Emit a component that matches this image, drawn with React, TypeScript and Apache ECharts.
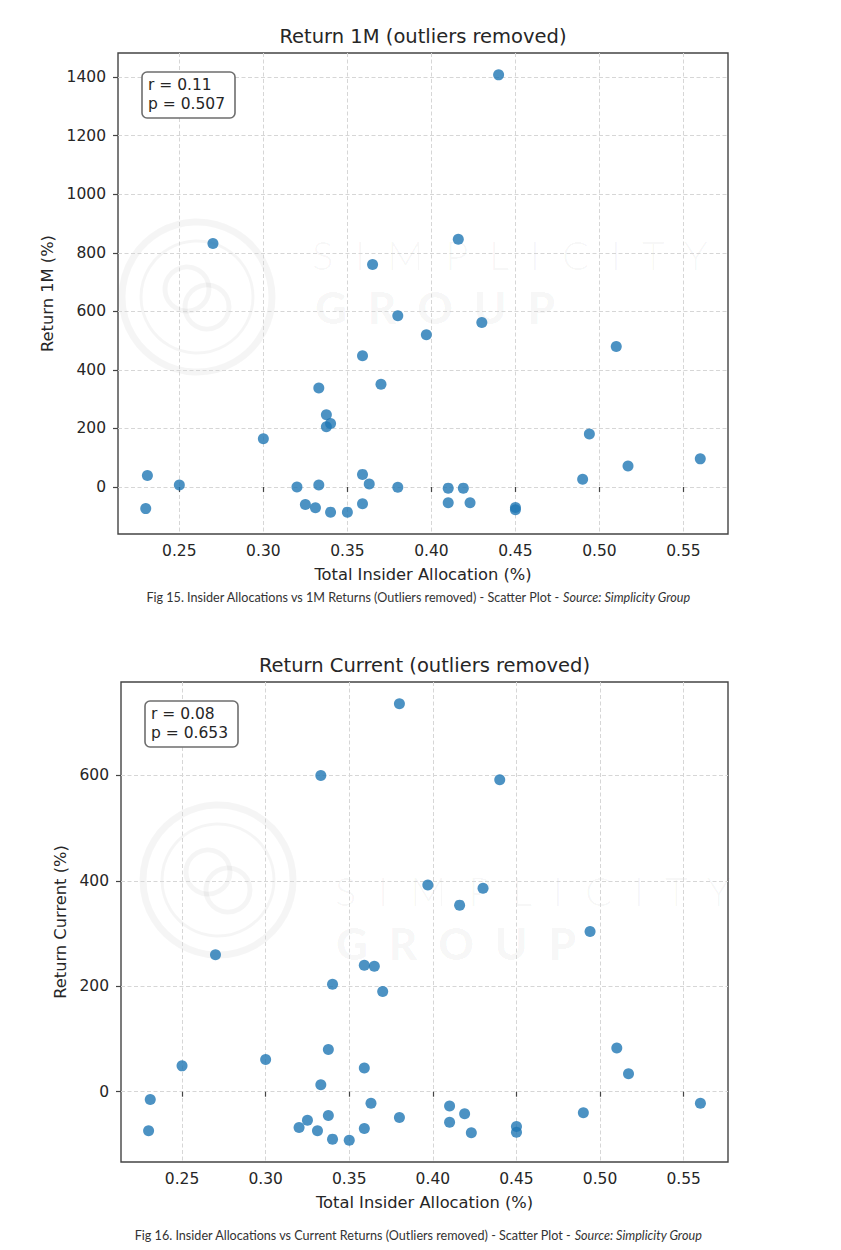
import React, { useEffect, useRef } from "react";
import * as echarts from "echarts";

// Total insider allocation (shared by both plots, one entry per company)
const ALLOCATION = [
  0.23, 0.231, 0.25, 0.27, 0.3, 0.32, 0.325, 0.331, 0.333, 0.333, 0.3375, 0.3375, 0.34,
  0.34, 0.35, 0.359, 0.359, 0.359, 0.363, 0.365, 0.37, 0.38, 0.38, 0.397, 0.41, 0.41,
  0.416, 0.419, 0.423, 0.43, 0.44, 0.45, 0.45, 0.49, 0.494, 0.51, 0.517, 0.56,
];
// Return 1M (%)
const RETURN_1M = [
  -74, 39, 7, 832, 165, 0, -60, -71, 7, 338, 247, 206, 217, -86, -86, -57, 43, 448, 10,
  760, 351, -1, 585, 520, -4, -54, 846, -4, -54, 562, 1408, -70, -78, 26, 181, 480, 72, 96,
];
// Return Current (%)
const RETURN_CURRENT = [
  -74, -15, 49, 260, 61, -68, -54, -74, 13, 600, 80, -45, 204, -90, -92, -70, 45, 240,
  -22, 238, 190, -49, 736, 392, -27, -58, 354, -42, -78, 386, 592, -66, -77, -40, 304, 83,
  34, -22,
];

const X_TICK_STEP = 0.05;
const Y_TICK_STEP = 200;
const CHART_TITLES = ["Return 1M (outliers removed)", "Return Current (outliers removed)"];
const Y_NAMES = ["Return 1M (%)", "Return Current (%)"];
const X_NAME = "Total Insider Allocation (%)";
const STATS = [
  ["r = 0.11", "p = 0.507"],
  ["r = 0.08", "p = 0.653"],
];
const CAPTIONS = [
  ["Fig 15. Insider Allocations vs 1M Returns (Outliers removed) - Scatter Plot - ", "Source: Simplicity Group"],
  ["Fig 16. Insider Allocations vs Current Returns (Outliers removed) - Scatter Plot - ", "Source: Simplicity Group"],
];
const WATERMARK = ["S  I  M  P  L  I  C  I  T  Y", "G  R  O  U  P"];

const W = 841;
const H = 1250;
const FONT = "DejaVu Sans";
const TEXT = "#262626";
const FRAME = "#444444";

const PANELS = [
  {
    left: 118, top: 53, width: 610, height: 481, yNameGap: 63, titleTop: 25, captionTop: 590,
    logo: [79, 244], wm1: [194, 202], wm2: [197, 254],
  },
  {
    left: 121, top: 682, width: 607, height: 480, yNameGap: 51, titleTop: 654, captionTop: 1228,
    logo: [97, 198], wm1: [214, 209], wm2: [215, 261],
  },
];

function paddedExtent(vals: number[], frac = 0.05): [number, number] {
  const mn = Math.min(...vals);
  const mx = Math.max(...vals);
  const pad = (mx - mn) * frac;
  return [mn - pad, mx + pad];
}

function watermark(p: any): any[] {
  const c = "rgba(0,0,0,0.04)";
  const els: any[] = [];
  const [lx, ly] = p.logo;
  const cx = p.left + lx;
  const cy = p.top + ly;
  els.push({ type: "circle", silent: true, z: -1, shape: { cx, cy, r: 75 }, style: { fill: "none", stroke: c, lineWidth: 7 } });
  els.push({ type: "circle", silent: true, z: -1, shape: { cx, cy, r: 56 }, style: { fill: "none", stroke: c, lineWidth: 3 } });
  els.push({ type: "circle", silent: true, z: -1, shape: { cx: cx - 10, cy: cy - 8, r: 22 }, style: { fill: "none", stroke: c, lineWidth: 5 } });
  els.push({ type: "circle", silent: true, z: -1, shape: { cx: cx + 10, cy: cy + 10, r: 22 }, style: { fill: "none", stroke: c, lineWidth: 5 } });
  const [ax, ay] = p.wm1;
  els.push({
    type: "text", silent: true, z: -1, x: p.left + ax, y: p.top + ay,
    style: {
      text: WATERMARK[0], fill: c, fontFamily: "Lato", fontWeight: 300, fontSize: 40,
      align: "left", verticalAlign: "middle",
    },
  });
  const [bx, by] = p.wm2;
  els.push({
    type: "text", silent: true, z: -1, x: p.left + bx, y: p.top + by,
    style: {
      text: WATERMARK[1], fill: c, fontFamily: "Lato", fontWeight: 900, fontSize: 44,
      align: "left", verticalAlign: "middle",
    },
  });
  return els;
}

function statsBox(p: any, lines: string[]): any[] {
  const x = p.left + 24;
  const y = p.top + 19;
  return [
    { type: "rect", z: 10, shape: { x, y, width: 93, height: 46, r: 5 }, style: { fill: "#ffffff", stroke: "#6e6e6e", lineWidth: 1.6 } },
    { type: "text", z: 11, x: x + 6, y: y + 13, style: { text: lines[0], fill: TEXT, fontFamily: FONT, fontSize: 15.5, lineHeight: 17, verticalAlign: "middle" } },
    { type: "text", z: 11, x: x + 6, y: y + 31.5, style: { text: lines[1], fill: TEXT, fontFamily: FONT, fontSize: 15.5, lineHeight: 17, verticalAlign: "middle" } },
  ];
}

export default function App() {
  const ref = useRef<HTMLDivElement>(null);
  useEffect(() => {
    document.body.style.margin = "0";
    if (!ref.current) return;
    const chart = echarts.init(ref.current, null, { renderer: "svg", width: W, height: H });
    const xExt = paddedExtent(ALLOCATION);
    const yData = [RETURN_1M, RETURN_CURRENT];

    const grids = PANELS.map((p) => ({
      left: p.left, top: p.top, width: p.width, height: p.height,
      show: true, borderColor: FRAME, borderWidth: 1.4, backgroundColor: "transparent",
    }));

    const splitLine = {
      show: true, showMinLine: false, showMaxLine: false,
      lineStyle: { color: "#d6d6d6", type: [4, 2.5], width: 1 },
    };

    const xAxes = PANELS.map((p, i) => ({
      type: "value", gridIndex: i, min: xExt[0], max: xExt[1],
      minInterval: X_TICK_STEP, maxInterval: X_TICK_STEP, splitNumber: 7,
      name: X_NAME, nameLocation: "middle", nameGap: 32,
      nameTextStyle: { fontFamily: FONT, fontSize: 16.3, color: TEXT },
      axisLine: { show: false },
      axisTick: { show: true, inside: false, length: 5, lineStyle: { color: FRAME, width: 1.2 } },
      axisLabel: {
        show: true, showMinLabel: false, showMaxLabel: false, margin: 9,
        fontFamily: FONT, fontSize: 15.5, color: TEXT,
        formatter: (v: number) => v.toFixed(2),
      },
      splitLine,
    }));

    const yAxes = PANELS.map((p, i) => {
      const ext = paddedExtent(yData[i]);
      return {
        type: "value", gridIndex: i, min: ext[0], max: ext[1],
        minInterval: Y_TICK_STEP, maxInterval: Y_TICK_STEP,
        name: Y_NAMES[i], nameLocation: "middle", nameGap: p.yNameGap,
        nameTextStyle: { fontFamily: FONT, fontSize: 16.3, color: TEXT },
        axisLine: { show: false },
        axisTick: { show: true, inside: false, length: 5, lineStyle: { color: FRAME, width: 1.2 } },
        axisLabel: {
          show: true, showMinLabel: false, showMaxLabel: false, margin: 12,
          fontFamily: FONT, fontSize: 15.5, color: TEXT,
          formatter: (v: number) => String(Math.round(v) + 0),
        },
        splitLine,
      };
    });

    const series = yData.map((ys, i) => ({
      type: "scatter", xAxisIndex: i, yAxisIndex: i, symbolSize: 11, z: 5,
      itemStyle: { color: "#1f77b4", opacity: 0.8 },
      data: ALLOCATION.map((x, k) => [x, ys[k]]),
    }));

    const titles: any[] = [];
    PANELS.forEach((p, i) => {
      titles.push({
        text: CHART_TITLES[i], left: p.left + p.width / 2, top: p.titleTop, textAlign: "center", padding: 0,
        textStyle: { fontFamily: FONT, fontSize: 19.5, fontWeight: "normal", color: TEXT, lineHeight: 23 },
      });
      titles.push({
        text: `${CAPTIONS[i][0]}{i|${CAPTIONS[i][1]}}`, left: 418, top: p.captionTop, textAlign: "center", padding: 0,
        textStyle: {
          fontFamily: "Lato", fontSize: 12.6, fontWeight: "normal", color: "#333333", lineHeight: 15,
          rich: { i: { fontFamily: "Lato", fontSize: 12.6, fontStyle: "italic", color: "#333333", lineHeight: 15 } },
        },
      });
    });

    const graphics: any[] = [];
    PANELS.forEach((p, i) => {
      graphics.push(...watermark(p));
      graphics.push(...statsBox(p, STATS[i]));
    });

    chart.setOption({
      animation: false,
      backgroundColor: "#ffffff",
      title: titles,
      grid: grids,
      xAxis: xAxes,
      yAxis: yAxes,
      series,
      graphic: graphics,
    });
    return () => chart.dispose();
  }, []);
  return <div ref={ref} style={{ width: W, height: H }} />;
}
